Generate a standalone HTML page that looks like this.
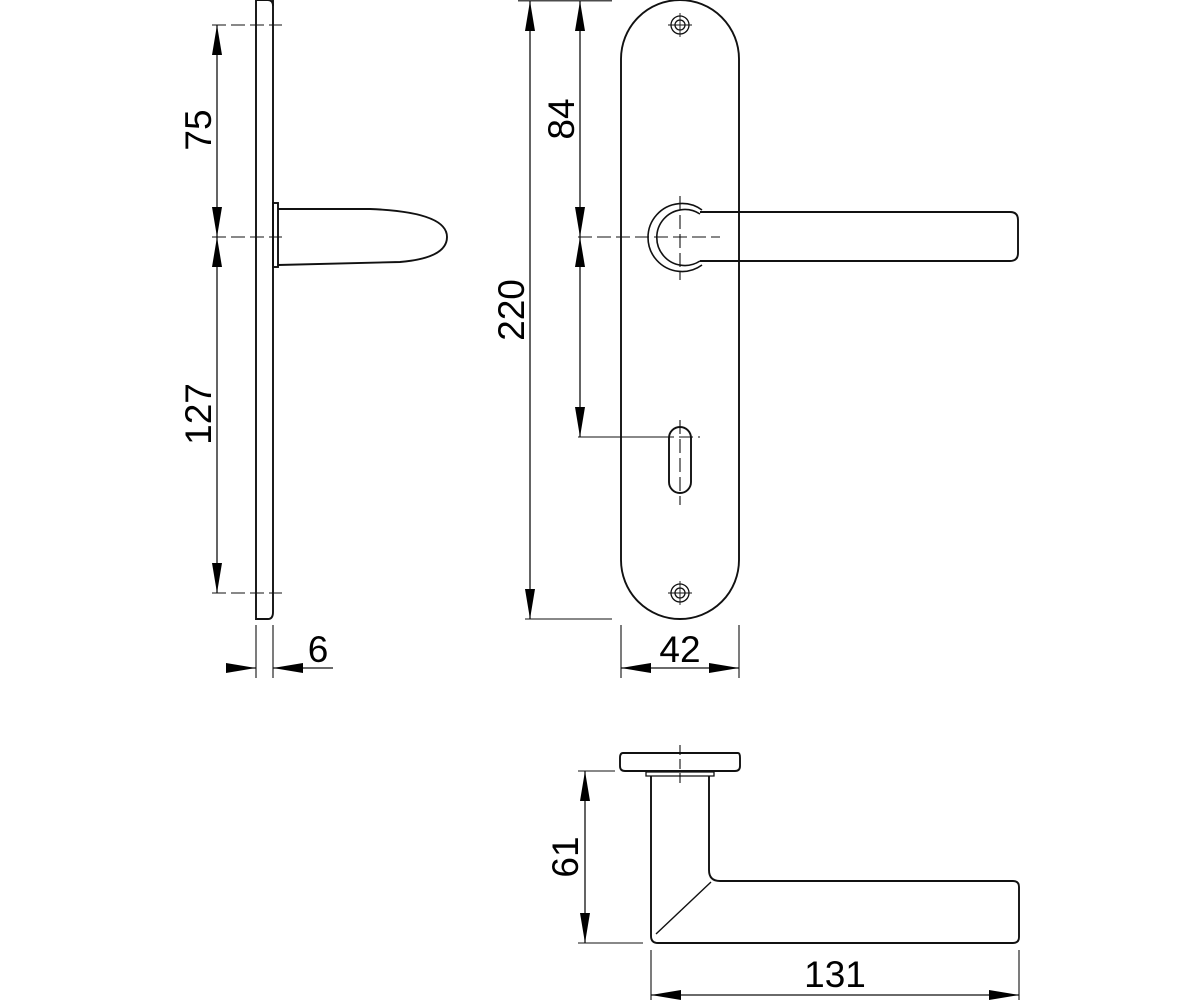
<!DOCTYPE html>
<html><head><style>html,body{margin:0;padding:0;background:#fff}svg{display:block}</style></head>
<body>
<svg width="1200" height="1000" viewBox="0 0 1200 1000" xmlns="http://www.w3.org/2000/svg" font-family="Liberation Sans, sans-serif">
<defs>
<marker id="b" viewBox="0 0 30 10" refX="30" refY="5" markerWidth="30" markerHeight="12" markerUnits="userSpaceOnUse" orient="auto-start-reverse"><path d="M0,0 L30,5 L0,10z" fill="#000"/></marker>
</defs>
<g fill="none" stroke="#111" stroke-width="1.9">
<!-- side view -->
<path d="M256,0 V619 H268 Q273,619 273,612 V0"/>
<path d="M256,0 H268 Q273,0 273,6"/>
<rect x="273" y="203" width="5" height="64"/>
<path d="M278,209 H370 Q447,212 447,237 Q447,258 400,262 L278,265"/>
<g stroke-width="1.1" stroke-dasharray="14,5">
<line x1="212" y1="25" x2="282" y2="25"/><line x1="212" y1="237" x2="282" y2="237"/><line x1="212" y1="593" x2="282" y2="593"/>
</g>
<line x1="217" y1="25" x2="217" y2="237" stroke-width="1.3" marker-start="url(#b)" marker-end="url(#b)"/>
<line x1="217" y1="237" x2="217" y2="593" stroke-width="1.3" marker-start="url(#b)" marker-end="url(#b)"/>
<line x1="256" y1="625" x2="256" y2="678" stroke-width="1.1"/><line x1="273" y1="625" x2="273" y2="678" stroke-width="1.1"/>
<line x1="228" y1="668" x2="256" y2="668" stroke-width="1.3" marker-end="url(#b)"/>
<line x1="333" y1="668" x2="273" y2="668" stroke-width="1.3" marker-end="url(#b)"/>
<!-- front view -->
<path d="M621,59 A59,59 0 0 1 739,59 V560 A59,59 0 0 1 621,560 Z"/>
<g stroke-width="1.3"><circle cx="680" cy="25" r="9"/><circle cx="680" cy="25" r="5"/><circle cx="680" cy="593" r="9"/><circle cx="680" cy="593" r="5"/></g>
<g stroke-width="0.9"><line x1="668" y1="25" x2="692" y2="25"/><line x1="680" y1="13" x2="680" y2="37"/><line x1="668" y1="593" x2="692" y2="593"/><line x1="680" y1="581" x2="680" y2="605"/></g>
<path d="M702,210 A34,34 0 1 0 702,265" stroke-width="1.6"/>
<path d="M700,214 A28,28 0 1 0 700,261" stroke-width="1.6"/>
<path d="M700,212 H1010 Q1018,212 1018,220 V253 Q1018,261 1010,261 H700" />
<rect x="669" y="427" width="22" height="66" rx="11"/>
<g stroke-width="1.1" stroke-dasharray="14,5">
<line x1="578" y1="237" x2="720" y2="237"/>
<line x1="680" y1="196" x2="680" y2="280"/>
<line x1="660" y1="437" x2="700" y2="437"/><line x1="680" y1="420" x2="680" y2="505"/>
</g>
<line x1="578" y1="437" x2="660" y2="437" stroke-width="1.1"/>
<line x1="518" y1="0.8" x2="612" y2="0.8" stroke-width="1.1"/>
<line x1="525" y1="619" x2="612" y2="619" stroke-width="1.1"/>
<line x1="530" y1="1" x2="530" y2="619" stroke-width="1.3" marker-start="url(#b)" marker-end="url(#b)"/>
<line x1="580" y1="1" x2="580" y2="237" stroke-width="1.3" marker-start="url(#b)" marker-end="url(#b)"/>
<line x1="580" y1="237" x2="580" y2="437" stroke-width="1.3" marker-start="url(#b)" marker-end="url(#b)"/>
<line x1="621" y1="625" x2="621" y2="678" stroke-width="1.1"/><line x1="739" y1="625" x2="739" y2="678" stroke-width="1.1"/>
<line x1="621" y1="668" x2="739" y2="668" stroke-width="1.3" marker-start="url(#b)" marker-end="url(#b)"/>
<!-- bottom view -->
<path d="M623,753 H738 Q740,753 740,758 V766 Q740,771 735,771 H625 Q620,771 620,766 V758 Q620,753 623,753Z"/>
<path d="M646,776 V772 H714 V776 Z" stroke-width="1.3"/>
<path d="M651,776 V936 Q651,943 658,943 H1013 Q1019,943 1019,937 V887 Q1019,881 1013,881 H720 Q709,881 709,870 V776"/>
<line x1="656" y1="934" x2="711" y2="882" stroke-width="1.4"/>
<line x1="680" y1="745" x2="680" y2="785" stroke-width="1.1" stroke-dasharray="10,4"/>
<line x1="578" y1="771" x2="615" y2="771" stroke-width="1.1"/>
<line x1="578" y1="943" x2="643" y2="943" stroke-width="1.1"/>
<line x1="585" y1="771" x2="585" y2="943" stroke-width="1.3" marker-start="url(#b)" marker-end="url(#b)"/>
<line x1="651" y1="950" x2="651" y2="1000" stroke-width="1.1"/><line x1="1019" y1="950" x2="1019" y2="1000" stroke-width="1.1"/>
<line x1="651" y1="995" x2="1019" y2="995" stroke-width="1.3" marker-start="url(#b)" marker-end="url(#b)"/>
</g>
<g fill="#000" font-size="37" text-anchor="middle">
<text transform="translate(211,130) rotate(-90)">75</text>
<text transform="translate(211,414) rotate(-90)">127</text>
<text x="318" y="662">6</text>
<text transform="translate(524,310) rotate(-90)">220</text>
<text transform="translate(574,119) rotate(-90)">84</text>
<text x="680" y="662">42</text>
<text transform="translate(578,857) rotate(-90)">61</text>
<text x="835" y="987">131</text>
</g>
</svg>
</body></html>
